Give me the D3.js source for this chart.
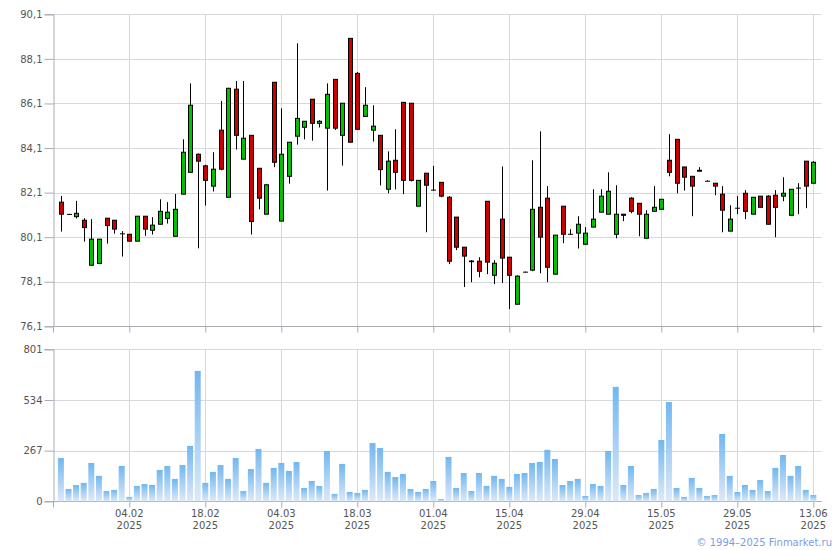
<!DOCTYPE html>
<html><head><meta charset="utf-8">
<script src="https://cdn.jsdelivr.net/npm/d3@7"></script>
<style>
html,body{margin:0;padding:0;background:#fff;}
svg text{font-family:"DejaVu Sans",Verdana,sans-serif;}
</style></head>
<body>
<svg id="chart" width="840" height="550"></svg>
<script>
const openP  = [81.67,81.12,81.02,80.86,78.84,78.92,80.95,80.86,80.25,80.23, 79.92,81.04,80.41,80.68,80.94,80.14,82.03,83.01,83.82,83.30, 82.39,84.90,81.89,86.74,83.60,84.67,83.19,81.13,87.05,80.82, 82.83,84.63,85.03,86.29,85.21,84.99,87.18,84.67,89.02,87.45, 85.52,84.90,84.67,82.25,83.55,86.15,86.11,81.49,82.97,82.21, 82.56,81.89,81.00,79.65,79.03,79.02,81.71,78.39,80.91,79.20, 77.09,78.53,78.62,81.44,81.85,78.44,81.49,80.23,80.28,79.78, 80.55,81.22,81.13,80.23,81.13,81.85,81.62,80.05,81.26,81.35, 83.55,84.49,83.25,82.83,83.10,82.61,82.52,82.03,80.37,81.40, 82.07,81.13,81.94,81.94,81.98,81.94,81.08,82.30,83.51,82.52];
const highP  = [81.95,81.15,81.73,80.95,80.91,80.01,80.95,80.86,80.37,80.23, 81.04,81.04,81.00,81.80,81.67,82.04,84.49,87.00,83.86,83.35, 83.91,86.21,86.80,87.11,87.11,84.67,83.20,82.49,87.05,85.88, 84.36,88.80,85.30,86.29,85.35,87.00,87.18,86.11,89.02,87.51, 86.83,86.02,84.67,83.95,84.94,86.15,86.11,82.65,82.97,83.30, 82.56,81.94,81.00,79.65,79.07,79.20,81.71,79.07,83.27,79.20, 78.39,78.55,83.55,84.85,82.39,80.19,81.49,80.46,81.04,80.55, 82.25,82.25,83.01,82.43,81.13,81.89,81.62,81.31,82.39,81.80, 84.72,84.49,83.25,82.83,83.24,82.65,82.52,82.39,81.53,81.94, 82.21,81.89,81.94,81.98,82.21,82.79,82.25,82.52,83.51,83.51];
const lowP   = [80.35,81.10,80.94,79.90,78.84,78.92,79.81,80.26,79.23,79.92, 79.92,80.16,80.22,80.68,80.71,80.14,82.03,83.01,79.60,81.52, 82.15,83.10,81.89,84.03,83.60,80.22,81.35,81.13,83.24,80.82, 82.50,84.25,84.49,84.43,85.02,82.19,84.91,83.31,84.36,84.94, 85.50,84.39,82.42,82.07,82.24,82.03,82.60,81.49,80.32,82.20, 81.89,78.89,79.52,77.86,78.08,78.30,78.44,77.99,78.04,76.87, 77.09,78.52,78.57,78.48,78.08,78.44,79.83,80.23,79.59,79.78, 80.55,81.22,81.13,80.05,80.82,81.17,80.14,80.05,81.26,81.35, 82.83,82.07,82.19,81.04,83.05,82.61,81.98,80.32,80.37,81.13, 80.91,81.13,81.44,80.68,80.10,81.71,81.08,81.13,81.40,82.52];
const closeP = [81.13,81.12,81.17,80.53,80.01,80.01,80.62,80.46,80.25,79.92, 81.04,80.46,80.64,81.26,81.22,81.35,83.91,86.02,83.51,82.65, 83.15,83.15,86.78,84.67,84.54,80.80,81.85,82.45,83.46,83.82, 84.36,85.43,85.30,85.21,85.30,86.51,84.99,86.11,84.36,84.94, 86.02,85.08,83.13,83.51,83.01,82.65,82.65,82.65,82.43,82.21, 81.94,79.02,79.65,79.25,79.00,78.57,78.98,78.93,79.16,78.39, 78.35,78.53,81.35,80.10,78.75,80.19,80.23,80.23,80.68,80.28, 80.91,81.94,82.16,81.13,81.08,81.26,81.13,81.13,81.44,81.80, 83.01,82.52,82.79,82.39,83.06,82.61,82.39,81.31,80.91,81.40, 81.26,81.89,81.44,80.68,81.44,82.07,82.25,82.30,82.39,83.46];
const volume = [228,65,86,97,202,134,54,60,186,23, 81,91,86,165,186,118,191,292,687,97, 155,191,118,228,54,170,276,97,176,202, 160,207,70,107,81,265,39,197,49,44, 60,307,281,155,128,144,65,49,65,107, 12,234,70,149,54,149,81,134,118,76, 144,149,202,207,271,223,86,107,118,28, 91,81,265,603,86,186,33,44,65,323, 523,70,23,123,70,28,33,355,134,49, 86,60,112,54,176,244,134,186,60,33];
const tickIndex  = [9,19,29,39,49,59,69,79,89,99];
const tickDay    = ["04.02","18.02","04.03","18.03","01.04","15.04","29.04","15.05","29.05","13.06"];
const tickYear   = ["2025","2025","2025","2025","2025","2025","2025","2025","2025","2025"];
const priceTicks = [76.1,78.1,80.1,82.1,84.1,86.1,88.1,90.1];
const volTicks   = [0,267,534,801];

const svg = d3.select("#chart");
const L = 53.3, R = 821.7;
const gridC = "#d5d8dc", axisC = "#a9abb3", textC = "#555";

const x = d3.scaleLinear().domain([-1, 100.1]).range([L, R]);
const y = d3.scaleLinear().domain([76.1, 90.1]).range([326.3, 14.3]);
const yv = d3.scaleLinear().domain([0, 801]).range([501.3, 349.3]);

const defs = svg.append("defs");
const grad = defs.append("linearGradient").attr("id","vg").attr("x1",0).attr("y1",0).attr("x2",0).attr("y2",1);
grad.append("stop").attr("offset","0%").attr("stop-color","#72b7ef");
grad.append("stop").attr("offset","100%").attr("stop-color","#dde9f8");

function panel(ys, ticks, fmt, top, bottom) {
  const g = svg.append("g");
  // horizontal grid
  g.selectAll(".hg").data(ticks).join("line")
    .attr("x1", L).attr("x2", R).attr("y1", d => Math.round(ys(d))+0.5).attr("y2", d => Math.round(ys(d))+0.5)
    .attr("stroke", gridC).attr("stroke-width",1);
  // vertical grid
  g.selectAll(".vg").data(tickIndex).join("line")
    .attr("x1", d => Math.round(x(d))+0.5).attr("x2", d => Math.round(x(d))+0.5)
    .attr("y1", top).attr("y2", bottom)
    .attr("stroke", gridC).attr("stroke-width",1);
  // y axis
  const ax = d3.axisLeft(ys).tickValues(ticks).tickFormat(fmt).tickSize(9).tickPadding(2);
  const ga = svg.append("g").attr("transform", `translate(${Math.round(L)+0.5},0)`).call(ax);
  ga.select(".domain").attr("stroke", axisC);
  ga.selectAll(".tick line").attr("stroke", axisC);
  ga.selectAll(".tick text").attr("fill", textC).attr("font-size", 10).attr("font-family","DejaVu Sans, Verdana, sans-serif");
  // bottom axis
  const bx = d3.axisBottom(x).tickValues(tickIndex).tickFormat("").tickSize(6).tickSizeOuter(0);
  const gb = svg.append("g").attr("transform", `translate(0,${Math.round(bottom)+0.5})`).call(bx);
  gb.select(".domain").attr("stroke", axisC).attr("d", `M${L},0H${R}`);
  gb.selectAll(".tick line").attr("stroke", axisC);
  return {g, ga, gb};
}

const fmtPrice = d => d.toFixed(1).replace(".", ",");
panel(y, priceTicks, fmtPrice, y(90.1), y(76.1));
const vp = panel(yv, volTicks, d => String(d), yv(801), yv(0));
// left-most tick at axis on bottoms
[y(76.1), yv(0)].forEach(b => {
  svg.append("line").attr("x1", Math.round(L)+0.5).attr("x2", Math.round(L)+0.5)
    .attr("y1", Math.round(b)+0.5).attr("y2", Math.round(b)+6.5).attr("stroke", axisC);
});

// x labels
const lab = svg.append("g");
lab.selectAll(".d").data(tickIndex).join("text")
  .attr("x", d => x(d)).attr("y", 517).attr("text-anchor","middle")
  .attr("font-size",10).attr("fill",textC).text((d,i) => tickDay[i]);
lab.selectAll(".yr").data(tickIndex).join("text")
  .attr("x", d => x(d)).attr("y", 529).attr("text-anchor","middle")
  .attr("font-size",10).attr("fill",textC).text((d,i) => tickYear[i]);

// volume bars
const idx = d3.range(volume.length);
svg.append("g").selectAll("rect").data(idx).join("rect")
  .attr("x", i => x(i) - 3).attr("width", 6)
  .attr("y", i => yv(volume[i])).attr("height", i => yv(0) - yv(volume[i]))
  .attr("fill", "url(#vg)");

// candles
const cg = svg.append("g");
cg.selectAll("line").data(idx).join("line")
  .attr("x1", i => Math.round(x(i))+0.5).attr("x2", i => Math.round(x(i))+0.5)
  .attr("y1", i => y(highP[i])).attr("y2", i => y(lowP[i]))
  .attr("stroke", "#000").attr("stroke-width", 1);
cg.selectAll("rect").data(idx).join("rect")
  .attr("x", i => Math.round(x(i)) - 1.5).attr("width", 4)
  .attr("y", i => y(Math.max(openP[i], closeP[i])))
  .attr("height", i => Math.max(0.01, Math.abs(y(openP[i]) - y(closeP[i]))))
  .attr("fill", i => closeP[i] > openP[i] ? "#00c000" : (closeP[i] < openP[i] ? "#cc0000" : "#000"))
  .attr("stroke", "#000").attr("stroke-width", 1);

// footer
svg.append("text").attr("x", 832).attr("y", 546).attr("text-anchor","end")
  .attr("font-size", 10).attr("fill", "#7d9ce6").text("© 1994–2025 Finmarket.ru");
</script>
</body></html>
